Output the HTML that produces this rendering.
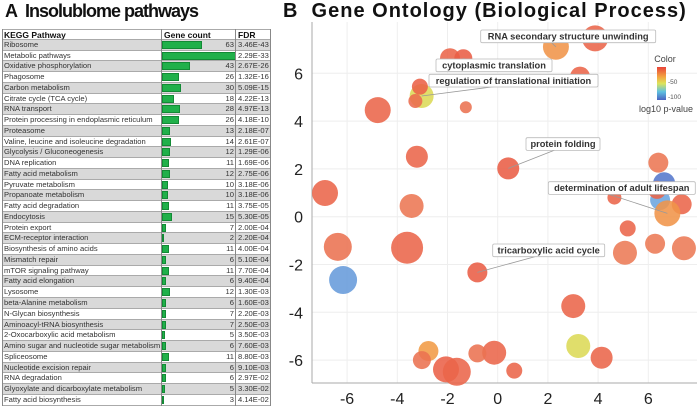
<!DOCTYPE html>
<html><head><meta charset="utf-8">
<style>
body{margin:0;width:700px;height:411px;background:#fff;font-family:"Liberation Sans",sans-serif;position:relative;overflow:hidden}
.t{position:absolute;font-weight:bold;font-size:18px;color:#111;top:1px;white-space:nowrap}
#tbl{position:absolute;left:2px;top:29px}
.row{position:absolute;left:0;height:10.76px;width:268px;font-size:7.6px;color:#333;line-height:10.6px;border-bottom:1px solid #aaa;box-sizing:border-box}
.row span{position:absolute;top:0}
.nm{left:2px}
.gc{right:36px;text-align:right}
.fd{left:236px}
.bar{position:absolute;left:160px;top:1px;height:8px;background:#20b04a;border:1px solid #138a35;box-sizing:border-box}
.vl{position:absolute;top:0;width:1px;background:#888}
</style></head><body>
<div class="t" style="left:5px;letter-spacing:-1px">A&nbsp; Insolublome pathways</div>
<div class="t" style="left:283px;font-size:20px;letter-spacing:1px;top:0">B&nbsp; Gene Ontology (Biological Process)</div>
<div id="tbl"></div>
<svg id="ch" width="700" height="411" style="position:absolute;left:0;top:0"></svg>
<script>
const paths=["Ribosome","Metabolic pathways","Oxidative phosphorylation","Phagosome","Carbon metabolism","Citrate cycle (TCA cycle)","RNA transport","Protein processing in endoplasmic reticulum","Proteasome","Valine, leucine and isoleucine degradation","Glycolysis / Gluconeogenesis","DNA replication","Fatty acid metabolism","Pyruvate metabolism","Propanoate metabolism","Fatty acid degradation","Endocytosis","Protein export","ECM-receptor interaction","Biosynthesis of amino acids","Mismatch repair","mTOR signaling pathway","Fatty acid elongation","Lysosome","beta-Alanine metabolism","N-Glycan biosynthesis","Aminoacyl-tRNA biosynthesis","2-Oxocarboxylic acid metabolism","Amino sugar and nucleotide sugar metabolism","Spliceosome","Nucleotide excision repair","RNA degradation","Glyoxylate and dicarboxylate metabolism","Fatty acid biosynthesis"];
const counts=[63,115,43,26,30,18,28,26,13,14,12,11,12,10,10,11,15,7,2,11,6,11,6,12,6,7,7,5,6,11,6,6,5,3];
const fdrs=["3.46E-43","2.29E-33","2.67E-26","1.32E-16","5.09E-15","4.22E-13","4.97E-13","4.18E-10","2.18E-07","2.61E-07","1.29E-06","1.69E-06","2.75E-06","3.18E-06","3.18E-06","3.75E-05","5.30E-05","2.00E-04","2.20E-04","4.00E-04","5.10E-04","7.70E-04","9.40E-04","1.30E-03","1.60E-03","2.20E-03","2.50E-03","3.50E-03","7.60E-03","8.80E-03","9.10E-03","2.97E-02","3.30E-02","4.14E-02"];
const goX=[-6.88,-4.78,-3.22,-3.43,-3.03,-3.10,-3.28,-1.27,-1.90,-1.37,2.32,3.88,3.28,0.42,6.40,6.63,6.47,6.35,7.33,6.76,4.65,-6.37,-6.16,-3.61,-0.81,5.18,5.07,6.27,7.42,3.01,3.21,4.14,-0.14,-0.81,0.66,-2.76,-3.02,-2.06,-1.63];
const goY=[0.99,4.46,2.51,0.45,5.05,5.44,4.84,4.58,6.63,6.63,7.11,7.46,5.86,2.02,2.26,1.40,0.70,1.12,0.52,0.14,0.80,-1.26,-2.65,-1.30,-2.33,-0.49,-1.51,-1.13,-1.32,-3.74,-5.41,-5.90,-5.69,-5.72,-6.44,-5.62,-6.0,-6.39,-6.49];
const goR=[13,13,11,12,12,8,7,6,10,9,13,13,10,11,10,11,10,9,10,13,7,14,14,16,10,8,12,10,12,12,12,11,12,9,8,10,9,13,14];
const goP=[-12,-12,-12,-20,-45,-10,-15,-18,-12,-8,-30,-12,-12,-8,-20,-105,-80,-12,-12,-30,-12,-18,-85,-12,-8,-12,-22,-22,-22,-12,-45,-12,-12,-18,-12,-32,-18,-10,-12];
const xTicks=[-6,-4,-2,0,2,4,6];
const yTicks=[-6,-4,-2,0,2,4,6];
const labels=[["RNA secondary structure unwinding",480.7,30,175,10],["cytoplasmic translation",436,59,116,9],["regulation of translational initiation",429,74.3,169,4],["protein folding",526,137.7,74,13],["determination of adult lifespan",548.3,181.7,147,19],["tricarboxylic acid cycle",492.7,244,112,24]];

const tbl=document.getElementById('tbl');
const RH=10.76;
const hd=document.createElement('div');hd.className='row';hd.style.top='0px';hd.style.fontSize='8.5px';hd.style.fontWeight='bold';hd.style.color='#111';hd.style.borderTop='1px solid #aaa';
hd.innerHTML='<span class="nm">KEGG Pathway</span><span style="left:162px">Gene count</span><span style="left:236px">FDR</span>';


tbl.appendChild(hd);
paths.forEach((p,i)=>{
 const r=document.createElement('div');r.className='row';
 r.style.top=(RH*(i+1))+'px';r.style.background=i%2===0?'#d9d9d9':'#fff';
 
 
 const b=document.createElement('div');b.className='bar';b.style.width=Math.max(2,counts[i]*0.64)+'px';
 
 
 r.innerHTML='<span class="nm">'+p+'</span><span class="gc">'+counts[i]+'</span><span class="fd">'+fdrs[i]+'</span>';
 r.appendChild(b);tbl.appendChild(r);
});
[0,159,233,268].forEach(x=>{const v=document.createElement('div');v.className='vl';v.style.left=x+'px';v.style.height=(RH*35)+'px';tbl.appendChild(v);});

const svg=document.getElementById('ch');const NS='http://www.w3.org/2000/svg';
const sx=v=>497.7+25.1*v, sy=v=>216.7-23.9*v;
function el(t,a,p){const e=document.createElementNS(NS,t);for(const k in a)e.setAttribute(k,a[k]);(p||svg).appendChild(e);return e;}
const L=312,R=697,T=22,B=383;
xTicks.forEach(t=>{el('line',{x1:sx(t),x2:sx(t),y1:T,y2:B,stroke:'#eee'});
 const tx=el('text',{x:sx(t),y:404,'text-anchor':'middle','font-size':16,fill:'#222'});tx.textContent=t;
 
 });
yTicks.forEach(t=>{el('line',{x1:L,x2:R,y1:sy(t),y2:sy(t),stroke:'#eee'});
 const tx=el('text',{x:303,y:sy(t)+6,'text-anchor':'end','font-size':16,fill:'#222'});tx.textContent=t;
 
 });
el('line',{x1:L,x2:L,y1:T,y2:B,stroke:'#aaa'});
el('line',{x1:L,x2:R,y1:B,y2:B,stroke:'#aaa'});
function col(p){const t=Math.min(1,Math.max(0,-p/110));
 const st=[[0,[232,76,61]],[0.2,[236,122,85]],[0.32,[243,165,65]],[0.42,[217,223,90]],[0.7,[110,170,225]],[1,[80,110,200]]];
 for(let i=1;i<st.length;i++){if(t<=st[i][0]){const a=st[i-1],b=st[i],f=(t-a[0])/(b[0]-a[0]);return 'rgb('+a[1].map((c,j)=>Math.round(c+(b[1][j]-c)*f)).join(',')+')';}}return 'rgb(80,110,200)';}
goX.forEach((x,i)=>{const c=el('circle',{cx:sx(x),cy:sy(goY[i]),r:goR[i],fill:col(goP[i]),'fill-opacity':0.88});
 
 });
labels.forEach(l=>{const [t,x,y,w,bi]=l;
 el('line',{x1:x+w*0.4,y1:y+12,x2:sx(goX[bi]),y2:sy(goY[bi]),stroke:'#999','stroke-width':0.8});
 const g=el('g',{});
 el('rect',{x:x,y:y,width:w,height:12.7,fill:'#fff',stroke:'#bbb','stroke-width':0.8,rx:1.5},g);
 const tx=el('text',{x:x+w/2,y:y+9.5,'text-anchor':'middle','font-size':9.3,'font-weight':'bold',fill:'#333'},g);tx.textContent=t;});
const lg=el('g',{});
const df=el('defs',{},lg);const gr=el('linearGradient',{id:'gg',x1:0,y1:0,x2:0,y2:1},df);
[[0,'#e8443a'],[0.3,'#f3a541'],[0.5,'#dde45a'],[0.75,'#5ec0e0'],[1,'#4a62c0']].forEach(s=>el('stop',{offset:s[0],'stop-color':s[1]},gr));
const ct=el('text',{x:665,y:62,'text-anchor':'middle','font-size':9,fill:'#444'},lg);ct.textContent='Color';
el('rect',{x:657,y:67,width:9,height:33,fill:'url(#gg)'},lg);
const l1=el('text',{x:668,y:84,'font-size':6.5,fill:'#555'},lg);l1.textContent='-50';
const l2=el('text',{x:668,y:99,'font-size':6.5,fill:'#555'},lg);l2.textContent='-100';
const l3=el('text',{x:666,y:112,'text-anchor':'middle','font-size':9,fill:'#444'},lg);l3.textContent='log10 p-value';
</script>
</body></html>
